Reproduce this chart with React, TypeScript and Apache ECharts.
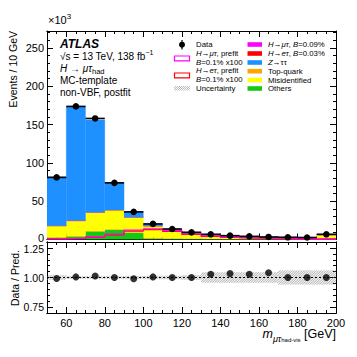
import React, { useEffect, useRef } from "react";
import * as echarts from "echarts";

const FONT = '"Liberation Sans", Arial, Helvetica, sans-serif';

// ---- data (thousands of events per 10 GeV) ----
const binLow = [50, 60, 70, 80, 90, 100, 110, 120, 130, 140, 150, 160, 170, 180, 190];
const binWidth = 10;

const dataVals = [81.0, 173.6, 157.9, 73.9, 36.0, 20.3, 13.7, 9.4, 6.8, 5.0, 4.1, 3.3, 2.9, 2.6, 6.8];
const others = [2.6, 4.0, 10.5, 12.8, 8.8, 1.4, 0.9, 0.7, 0.5, 0.4, 0.3, 0.3, 0.2, 0.2, 0.3];
const topQuark = [0.4, 0.5, 0.6, 0.7, 0.8, 0.8, 0.7, 0.7, 0.6, 0.6, 0.6, 0.5, 0.5, 0.5, 0.6];
const misid = [15.0, 20.1, 24.4, 25.0, 19.4, 15.4, 10.9, 6.8, 4.9, 3.5, 2.6, 1.9, 1.7, 1.4, 5.2];
const hetauFit = [0.01, 0.01, 0.02, 0.04, 0.07, 0.08, 0.06, 0.04, 0.03, 0.02, 0.01, 0.01, 0.01, 0.01, 0.01];
const hmutauFit = [0.01, 0.02, 0.03, 0.06, 0.11, 0.12, 0.1, 0.06, 0.04, 0.03, 0.02, 0.01, 0.01, 0.01, 0.01];
const ztautau = [63.7, 148.4, 120.5, 35.4, 7.3, 2.6, 1.2, 1.2, 0.6, 0.4, 0.6, 0.5, 0.5, 0.5, 0.7];
const hmutauPrefit = [1.0, 1.8, 3.5, 7.0, 12.2, 13.8, 11.5, 7.2, 4.6, 3.0, 2.0, 1.3, 0.9, 0.6, 0.8];
const hetauPrefit = [0.7, 1.4, 2.8, 6.0, 11.0, 12.8, 10.5, 6.6, 4.2, 2.7, 1.8, 1.2, 0.8, 0.5, 0.7];

const ratioVals = [0.992, 1.005, 1.013, 1.0, 0.99, 1.005, 1.0, 1.0, 1.027, 1.033, 1.027, 1.04, 1.0, 1.0, 1.0];
const ratioUnc = [0.02, 0.012, 0.012, 0.012, 0.014, 0.015, 0.015, 0.02, 0.045, 0.045, 0.045, 0.045, 0.06, 0.06, 0.06];

const xMajor = [60, 80, 100, 120, 140, 160, 180, 200];
const xMinor = [55, 65, 70, 75, 85, 90, 95, 105, 110, 115, 125, 130, 135, 145, 150, 155, 165, 170, 175, 185, 190, 195];
const ratioMajor = [0.75, 1.0, 1.25];
const ratioMinor = [0.8, 0.85, 0.9, 0.95, 1.05, 1.1, 1.15, 1.2];

const components = [
  { name: "Others", vals: others, color: "#14c814" },
  { name: "Top-quark", vals: topQuark, color: "#ffa500" },
  { name: "Misidentified", vals: misid, color: "#ffff00" },
  { name: "Hetau", vals: hetauFit, color: "#ff0000" },
  { name: "Hmutau", vals: hmutauFit, color: "#ff00ff" },
  { name: "Ztautau", vals: ztautau, color: "#1e90ff" },
];

const AX = "#000";

function xAx(grid: number, pos: string, ticks: number[], len: number, labels: boolean) {
  return {
    type: "value",
    gridIndex: grid,
    position: pos,
    min: 50,
    max: 200,
    axisLine: { show: true, onZero: false, lineStyle: { color: AX, width: 1 } },
    axisTick: { show: true, inside: true, length: len, customValues: ticks, lineStyle: { color: AX, width: 1 } },
    axisLabel: labels
      ? { show: true, customValues: ticks, fontSize: 11, color: "#000", fontFamily: FONT, margin: 4 }
      : { show: false },
    splitLine: { show: false },
  };
}

function ratioY(grid: number, pos: string, ticks: number[], len: number, labels: boolean) {
  return {
    type: "value",
    gridIndex: grid,
    position: pos,
    min: 0.7,
    max: 1.3,
    axisLine: { show: true, onZero: false, lineStyle: { color: AX, width: 1 } },
    axisTick: { show: true, inside: true, length: len, customValues: ticks, lineStyle: { color: AX, width: 1 } },
    axisLabel: labels
      ? {
          show: true,
          customValues: ticks,
          fontSize: 10.5,
          lineHeight: 8,
          color: "#000",
          fontFamily: FONT,
          margin: 3,
          formatter: (v: number) => (Math.abs(v - 1.25) < 1e-6 ? "{t|1.25}" : v.toFixed(2)),
          rich: { t: { fontSize: 10.5, fontFamily: FONT, color: "#000", lineHeight: 8, padding: [2, 0, 0, 0] } },
        }
      : { show: false },
    splitLine: { show: false },
  };
}

function mainY(pos: string, labels: boolean) {
  return {
    type: "value",
    gridIndex: 0,
    position: pos,
    min: 0,
    max: 272,
    interval: 50,
    axisLine: { show: true, onZero: false, lineStyle: { color: AX, width: 1 } },
    axisTick: { show: true, inside: true, length: 6, lineStyle: { color: AX, width: 1 } },
    minorTick: { show: true, splitNumber: 5, length: 3, lineStyle: { color: AX, width: 1 } },
    axisLabel: labels
      ? {
          show: true,
          showMaxLabel: false,
          fontSize: 11,
          lineHeight: 8,
          color: "#000",
          fontFamily: FONT,
          margin: 3,
          formatter: (v: number) => (v === 0 ? "{z|0}" : String(v)),
          rich: { z: { fontSize: 11, fontFamily: FONT, color: "#000", lineHeight: 8, padding: [0, 0, 3, 0] } },
        }
      : { show: false },
    splitLine: { show: false },
    minorSplitLine: { show: false },
  };
}

function hatchLines(x: number, y: number, w: number, h: number, step: number, stroke: string, lw: number) {
  const out: any[] = [];
  for (let k = -h; k < w; k += step) {
    const t0 = Math.max(0, -k);
    const t1 = Math.min(h, w - k);
    if (t1 <= t0) continue;
    out.push({
      type: "line",
      shape: { x1: x + k + t0, y1: y + h - t0, x2: x + k + t1, y2: y + h - t1 },
      style: { stroke, lineWidth: lw },
    });
  }
  return out;
}

function buildOption() {
  const cum = binLow.map(() => 0);
  const stackSeries = components.map((c) => {
    const items = binLow.map((lo, i) => {
      const b = cum[i];
      const t = b + c.vals[i];
      cum[i] = t;
      return [lo, lo + binWidth, b, t];
    });
    return {
      type: "custom",
      name: c.name,
      xAxisIndex: 0,
      yAxisIndex: 0,
      clip: true,
      encode: { x: [0, 1], y: [2, 3] },
      data: items,
      z: 2,
      renderItem: (params: any, api: any) => {
        const p0 = api.coord([api.value(0), api.value(3)]);
        const p1 = api.coord([api.value(1), api.value(2)]);
        return {
          type: "rect",
          shape: { x: p0[0], y: p0[1], width: p1[0] - p0[0], height: p1[1] - p0[1] },
          style: { fill: c.color, stroke: c.color, lineWidth: 0.3 },
        };
      },
    };
  });

  const stepData = (vals: number[]) => {
    const d = binLow.map((lo, i) => [lo, vals[i]]);
    d.push([200, vals[vals.length - 1]]);
    return d;
  };

  const outline = (vals: number[], color: string) => ({
    type: "line",
    xAxisIndex: 0,
    yAxisIndex: 0,
    step: "end",
    symbol: "none",
    data: stepData(vals),
    lineStyle: { color, width: 1.2 },
    z: 3,
  });

  const dataSeries = {
    type: "custom",
    xAxisIndex: 0,
    yAxisIndex: 0,
    encode: { x: [0, 1], y: 2 },
    data: binLow.map((lo, i) => [lo, lo + binWidth, dataVals[i]]),
    z: 5,
    renderItem: (params: any, api: any) => {
      const x0 = api.value(0), x1 = api.value(1), v = api.value(2);
      const a = api.coord([x0, v]);
      const b = api.coord([x1, v]);
      const c = api.coord([(x0 + x1) / 2, v]);
      return {
        type: "group",
        children: [
          { type: "line", shape: { x1: a[0], y1: a[1], x2: b[0], y2: b[1] }, style: { stroke: "#000", lineWidth: 1.6 } },
          { type: "circle", shape: { cx: c[0], cy: c[1], r: 3.3 }, style: { fill: "#000" } },
        ],
      };
    },
  };

  const ratioBand = {
    type: "custom",
    xAxisIndex: 2,
    yAxisIndex: 2,
    clip: true,
    encode: { x: [0, 1], y: [2, 3] },
    data: binLow.map((lo, i) => [lo, lo + binWidth, 1 - ratioUnc[i], 1 + ratioUnc[i]]),
    z: 2,
    renderItem: (params: any, api: any) => {
      const p0 = api.coord([api.value(0), api.value(3)]);
      const p1 = api.coord([api.value(1), api.value(2)]);
      const x = p0[0], y = p0[1], w = p1[0] - p0[0], h = p1[1] - p0[1];
      return {
        type: "group",
        children: [
          { type: "rect", shape: { x, y, width: w, height: h }, style: { fill: "rgba(0,0,0,0.05)" } },
          ...hatchLines(x, y, w, h, 2.4, "#8c8c8c", 0.6),
        ],
      };
    },
  };

  const ratioLine = {
    type: "line",
    xAxisIndex: 2,
    yAxisIndex: 2,
    symbol: "none",
    data: [[50, 1], [200, 1]],
    lineStyle: { color: "#000", width: 1, type: [2, 2] },
    z: 3,
  };

  const ratioPts = {
    type: "scatter",
    xAxisIndex: 2,
    yAxisIndex: 2,
    symbol: "circle",
    symbolSize: 7,
    itemStyle: { color: "#000" },
    data: binLow.map((lo, i) => [lo + binWidth / 2, ratioVals[i]]),
    z: 5,
  };

  const rn = { fontSize: 7.8, fontFamily: FONT, fill: "#000", lineHeight: 10 } as any;
  const ri = { ...rn, fontStyle: "italic" };
  const legTxt = (x: number, y: number, text: string) => ({
    type: "text",
    x,
    y,
    style: { text, rich: { n: rn, i: ri }, fontSize: 7.8, fontFamily: FONT, fill: "#000", verticalAlign: "middle", align: "left" },
    z: 100,
  });
  const box = (x: number, y: number, w: number, h: number, fill: string, stroke?: string) => ({
    type: "rect",
    shape: { x, y, width: w, height: h },
    style: { fill, stroke: stroke || "none", lineWidth: 1.2 },
    z: 100,
  });

  const big = { fontSize: 10, fontFamily: FONT, fill: "#000", lineHeight: 14 } as any;
  const bigI = { ...big, fontStyle: "italic" };

  const graphic: any[] = [
    // axis titles
    {
      type: "text",
      x: 13,
      y: 31,
      rotation: Math.PI / 2,
      style: { text: "Events / 10 GeV", fontSize: 10.5, fontFamily: FONT, fill: "#000", align: "right", verticalAlign: "middle" },
    },
    {
      type: "text",
      x: 15,
      y: 278,
      rotation: Math.PI / 2,
      style: { text: "Data / Pred.", fontSize: 10.5, fontFamily: FONT, fill: "#000", align: "center", verticalAlign: "middle" },
    },
    {
      type: "text",
      x: 48,
      y: 20,
      style: {
        text: "{n|×10}{sup|3}",
        rich: {
          n: { fontSize: 11, fontFamily: FONT, fill: "#000", lineHeight: 16 },
          sup: { fontSize: 8, fontFamily: FONT, fill: "#000", lineHeight: 8, verticalAlign: "top" },
        },
        verticalAlign: "middle",
      },
    },
    {
      type: "text",
      x: 336,
      y: 334,
      style: {
        text: "{m|m}{s1|μτ}{s2|had-vis}{n| [GeV]}",
        rich: {
          m: { fontSize: 12.5, fontFamily: FONT, fontStyle: "italic", fill: "#000", lineHeight: 18 },
          s1: { fontSize: 9, fontFamily: FONT, fontStyle: "italic", fill: "#000", lineHeight: 11, verticalAlign: "bottom" },
          s2: { fontSize: 6, fontFamily: FONT, fill: "#000", lineHeight: 6, verticalAlign: "bottom" },
          n: { fontSize: 12.5, fontFamily: FONT, fill: "#000", lineHeight: 18 },
        },
        align: "right",
        verticalAlign: "middle",
      },
    },
    // ATLAS label block
    {
      type: "text",
      x: 60,
      y: 44,
      style: { text: "ATLAS", fontSize: 12, fontWeight: "bold", fontStyle: "italic", fontFamily: FONT, fill: "#000", verticalAlign: "middle" },
    },
    {
      type: "text",
      x: 60,
      y: 56,
      style: {
        text: "{n|√}{n|s = 13 TeV, 138 fb}{sup|−1}",
        rich: { n: big, sup: { fontSize: 7, fontFamily: FONT, fill: "#000", lineHeight: 7, verticalAlign: "top" } },
        verticalAlign: "middle",
      },
    },
    {
      type: "text",
      x: 60,
      y: 68,
      style: {
        text: "{i|H}{n| → }{i|μτ}{sub|had}",
        rich: { n: big, i: bigI, sub: { fontSize: 7.5, fontFamily: FONT, fill: "#000", lineHeight: 8, verticalAlign: "bottom" } },
        verticalAlign: "middle",
      },
    },
    { type: "text", x: 60, y: 80.5, style: { text: "MC-template", fontSize: 10, fontFamily: FONT, fill: "#000", verticalAlign: "middle" } },
    { type: "text", x: 60, y: 92.5, style: { text: "non-VBF, postfit", fontSize: 10, fontFamily: FONT, fill: "#000", verticalAlign: "middle" } },

    // legend left column
    { type: "line", shape: { x1: 182, y1: 40, x2: 182, y2: 49.5 }, style: { stroke: "#000", lineWidth: 1.2 }, z: 100 },
    { type: "circle", shape: { cx: 182, cy: 44.7, r: 3 }, style: { fill: "#000" }, z: 100 },
    legTxt(196, 44.7, "{n|Data}"),
    box(174.5, 56, 15, 4.8, "#fff", "#ff00ff"),
    legTxt(196, 53.3, "{i|H}{n|→}{i|μτ}{n|, prefit}"),
    legTxt(196, 62, "{i|B}{n|=0.1% x100}"),
    box(174.5, 73, 15, 4.8, "#fff", "#ff0000"),
    legTxt(196, 70.7, "{i|H}{n|→}{i|eτ}{n|, prefit}"),
    legTxt(196, 79, "{i|B}{n|=0.1% x100}"),
    { type: "group", z: 100, children: hatchLines(174, 86, 16, 4.5, 2, "#8c8c8c", 0.6) },
    legTxt(196, 88.3, "{n|Uncertainty}"),

    // legend right column
    box(247.5, 42.2, 14.5, 4.6, "#ff00ff"),
    legTxt(268, 44.5, "{i|H}{n|→}{i|μτ}{n|, }{i|B}{n|=0.09%}"),
    box(247.5, 51.2, 14.5, 4.6, "#ff0000"),
    legTxt(268, 53.5, "{i|H}{n|→}{i|eτ}{n|, }{i|B}{n|=0.03%}"),
    box(247.5, 60.2, 14.5, 4.6, "#1e90ff"),
    legTxt(268, 62.5, "{i|Z}{n|→ττ}"),
    box(247.5, 68.9, 14.5, 4.6, "#ffa500"),
    legTxt(268, 71.2, "{n|Top-quark}"),
    box(247.5, 77.7, 14.5, 4.6, "#ffff00"),
    legTxt(268, 80, "{n|Misidentified}"),
    box(247.5, 86.2, 14.5, 4.6, "#14c814"),
    legTxt(268, 88.5, "{n|Others}"),
  ];

  return {
    animation: false,
    backgroundColor: "#fff",
    grid: [
      { left: 47, top: 31, width: 289, height: 208.5 },
      { left: 47, top: 242, width: 289, height: 71 },
      { left: 47, top: 31, width: 289, height: 208.5 },
      { left: 47, top: 242, width: 289, height: 71 },
    ],
    xAxis: [
      xAx(0, "bottom", xMajor, 6, false),
      xAx(0, "top", xMajor, 6, false),
      xAx(1, "bottom", xMajor, 6, true),
      xAx(1, "top", xMajor, 6, false),
      xAx(2, "bottom", xMinor, 3, false),
      xAx(2, "top", xMinor, 3, false),
      xAx(3, "bottom", xMinor, 3, false),
      xAx(3, "top", xMinor, 3, false),
    ],
    yAxis: [
      mainY("left", true),
      mainY("right", false),
      ratioY(1, "left", ratioMajor, 6, true),
      ratioY(1, "right", ratioMajor, 6, false),
      { type: "value", gridIndex: 2, show: false, min: 0, max: 1 },
      ratioY(3, "left", ratioMinor, 3, false),
      ratioY(3, "right", ratioMinor, 3, false),
    ],
    series: [
      ...stackSeries,
      outline(hetauPrefit, "#ff0000"),
      outline(hmutauPrefit, "#ff00ff"),
      dataSeries,
      ratioBand,
      ratioLine,
      ratioPts,
    ],
    graphic,
  };
}

export default function App() {
  const ref = useRef<HTMLDivElement>(null);
  useEffect(() => {
    if (!ref.current) return;
    const chart = echarts.init(ref.current, undefined, { renderer: "svg" });
    chart.setOption(buildOption() as any);
    return () => chart.dispose();
  }, []);
  return <div ref={ref} style={{ width: 357, height: 357, position: "absolute", left: 0, top: 0 }} />;
}
